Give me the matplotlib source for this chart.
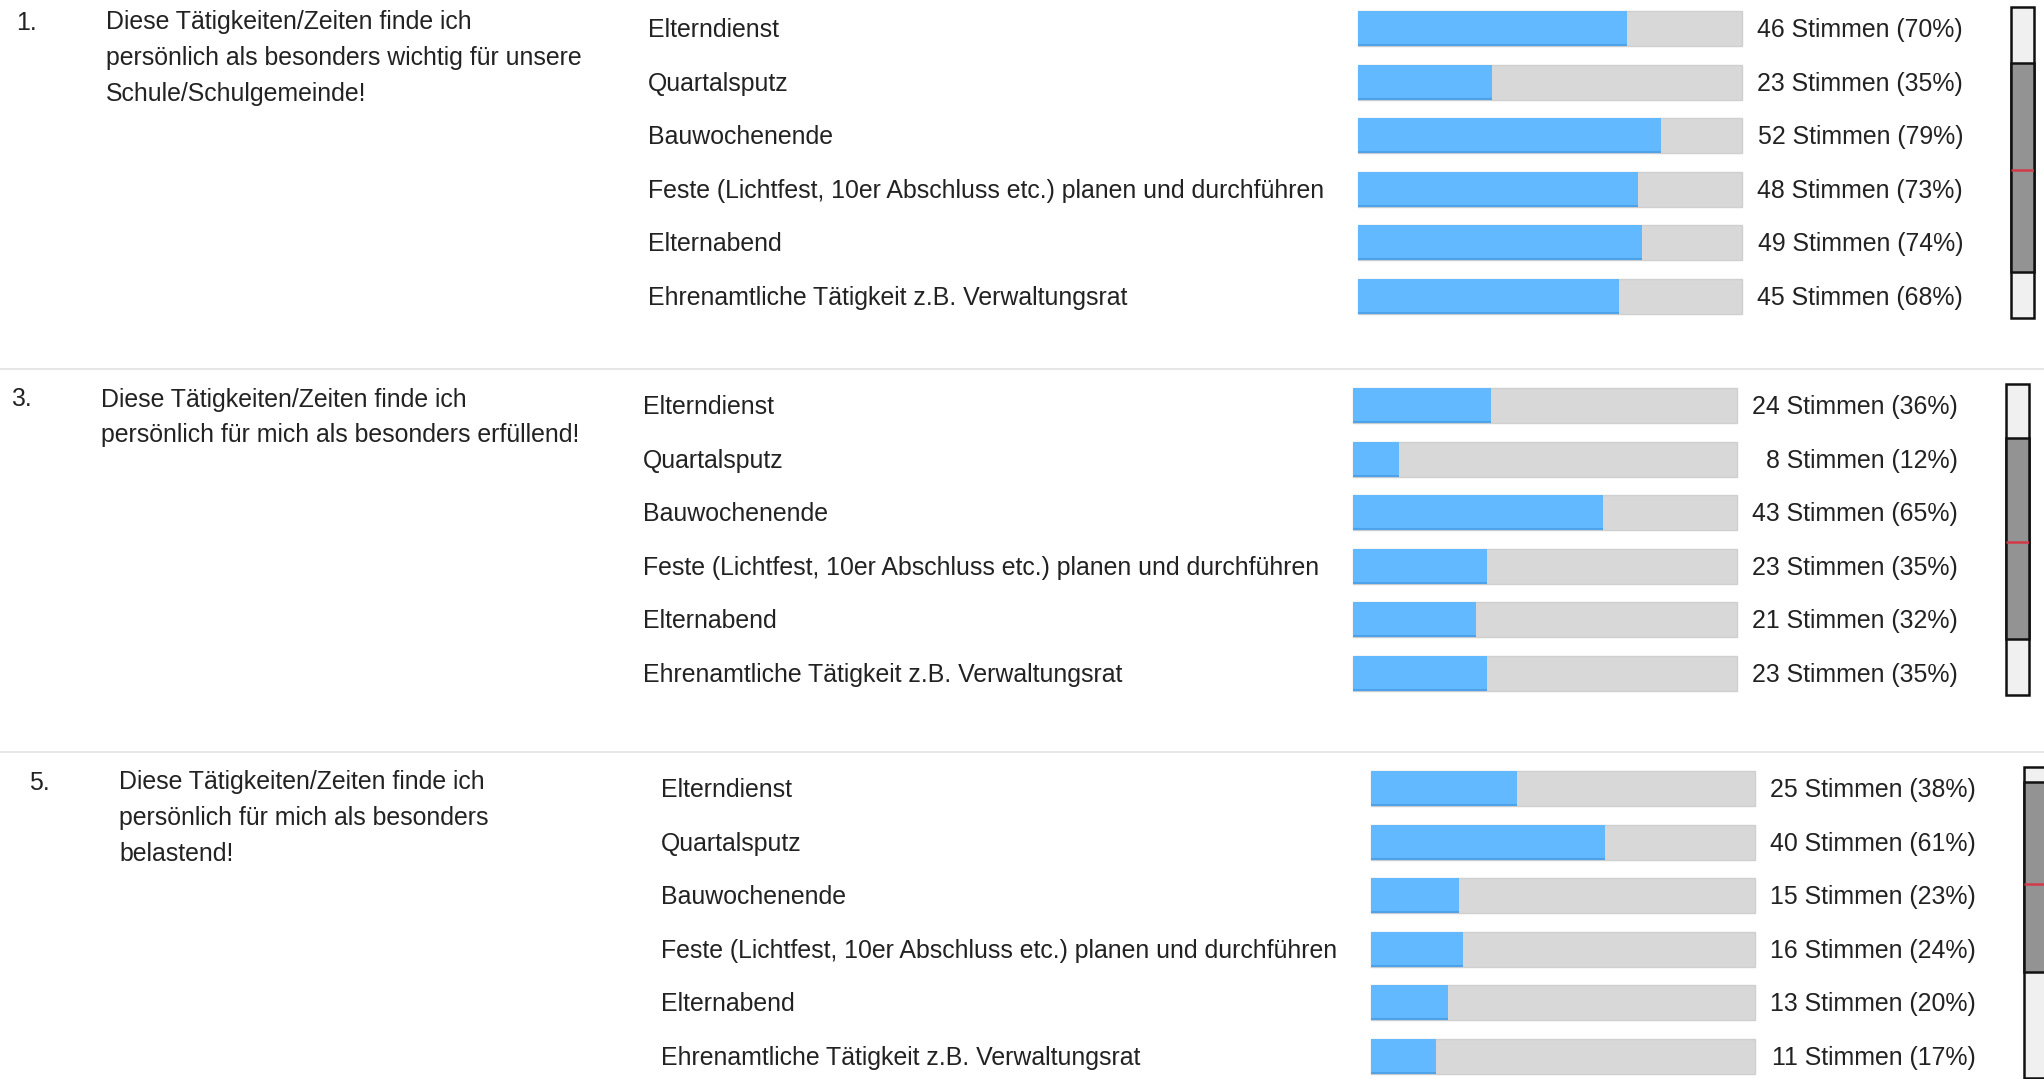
"""
Umfrage-Ergebnisse: Tätigkeiten/Zeiten in der Schulgemeinde
"""
import matplotlib
matplotlib.use("Agg")
import matplotlib.pyplot as plt

plt.rcParams["font.family"] = ["Liberation Sans", "DejaVu Sans"]

# ---------------------------------------------------------------------------
# Daten
# ---------------------------------------------------------------------------
activities = [
    "Elterndienst",
    "Quartalsputz",
    "Bauwochenende",
    "Feste (Lichtfest, 10er Abschluss etc.) planen und durchführen",
    "Elternabend",
    "Ehrenamtliche Tätigkeit z.B. Verwaltungsrat",
]

question_numbers = ["1.", "3.", "5."]
question_texts = [
    ["Diese Tätigkeiten/Zeiten finde ich",
     "persönlich als besonders wichtig für unsere",
     "Schule/Schulgemeinde!"],
    ["Diese Tätigkeiten/Zeiten finde ich",
     "persönlich für mich als besonders erfüllend!"],
    ["Diese Tätigkeiten/Zeiten finde ich",
     "persönlich für mich als besonders",
     "belastend!"],
]

votes_wichtig = [46, 23, 52, 48, 49, 45]
pct_wichtig = [70, 35, 79, 73, 74, 68]
votes_erfuellend = [24, 8, 43, 23, 21, 23]
pct_erfuellend = [36, 12, 65, 35, 32, 35]
votes_belastend = [25, 40, 15, 16, 13, 11]
pct_belastend = [38, 61, 23, 24, 20, 17]

# Kasten rechts: Anteil (0-100) von oben für Q1 / Median / Q3
box_q1 = [18.0, 17.4, 4.8]
box_median = [52.4, 50.8, 37.6]
box_q3 = [85.2, 82.0, 65.9]

votes = [votes_wichtig, votes_erfuellend, votes_belastend]
pcts = [pct_wichtig, pct_erfuellend, pct_belastend]

# ---------------------------------------------------------------------------
# Layout (Pixel)
# ---------------------------------------------------------------------------
W, H = 2044, 1079
BLUE = "#62b9ff"
BLUE_EDGE = "#4ea2ea"
GRAY = "#d8d8d8"
TEXT = "#222222"
FS = 17.9

sec_dy = [0, 377, 760]
sec_dx = [0, -5, 13]
row_h = 53.6
bar_x0 = 1358
bar_w = 384
bar_h = 35
box_x = [2011, 2006, 2024]

fig = plt.figure(figsize=(W / 100, H / 100), dpi=100)
ax = fig.add_axes([0, 0, 1, 1])
ax.set_xlim(0, W)
ax.set_ylim(H, 0)
ax.axis("off")

# Trennlinien
for y in (369, 752):
    ax.axhline(y, color="#e2e2e2", lw=1.2)

for s in range(3):
    dy, dx = sec_dy[s], sec_dx[s]
    ys = [28.5 + dy + i * row_h for i in range(len(activities))]
    x0 = bar_x0 + dx

    # Frage
    ax.text(16 + dx, 22.5 + dy, question_numbers[s], fontsize=FS, color=TEXT, va="center")
    for j, line in enumerate(question_texts[s]):
        ax.text(106 + dx, 22.5 + dy + j * 35.8, line, fontsize=FS, color=TEXT, va="center")

    # Balken
    ax.barh(ys, [bar_w] * len(ys), left=x0, height=bar_h, color=GRAY,
            edgecolor="#cfcfcf", linewidth=1)
    widths = [p / 100 * bar_w for p in pcts[s]]
    ax.barh(ys, widths, left=x0, height=bar_h, color=BLUE, linewidth=0)
    ax.hlines([y + bar_h / 2 - 1 for y in ys], x0, [x0 + w for w in widths],
              color=BLUE_EDGE, lw=1.5)

    for y, label, v, p in zip(ys, activities, votes[s], pcts[s]):
        ax.text(648 + dx, y + 1.5, label, fontsize=FS, color=TEXT, va="center")
        ax.text(x0 + 605, y + 1.5, f"{v} Stimmen ({p}%)", fontsize=FS, color=TEXT,
                va="center", ha="right")

    # Kasten rechts
    bx = fig.add_axes([box_x[s] / W, 1 - (7 + dy + 311) / H, 23 / W, 311 / H])
    bx.set_xlim(0, 1)
    bx.set_ylim(100, 0)
    bx.axis("off")
    bx.bar(0.5, 100, bottom=0, width=1, color="#f0f0f0", edgecolor="#111111",
           linewidth=1.8, clip_on=False)
    bx.bar(0.5, box_q3[s] - box_q1[s], bottom=box_q1[s], width=1, color="#939393",
           edgecolor="#111111", linewidth=1.8, clip_on=False)
    bx.hlines(box_median[s], 0, 1, color="#d23a48", lw=1.8)

fig.savefig("out.png", dpi=100)
